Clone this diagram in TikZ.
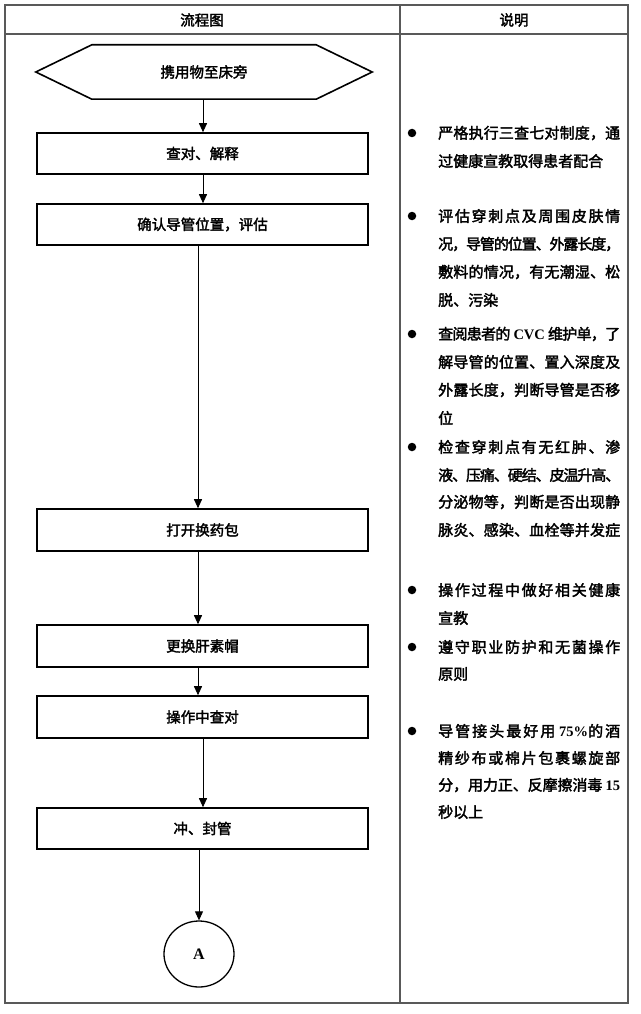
\documentclass[tikz,border=0pt]{standalone}
\usepackage{fontspec}
\usetikzlibrary{arrows.meta,shapes.geometric}
\setmainfont{Liberation Serif}
\newfontfamily\cjk{Noto Sans CJK SC}[FakeBold=2.2]
\newfontfamily\lat{Liberation Serif}
\XeTeXinterchartokenstate=1
\newcount\cjkc
\def\setcls#1#2{\cjkc=#1\relax\loop\XeTeXcharclass\cjkc=1\relax\advance\cjkc by 1\relax\ifnum\cjkc<#2\relax\repeat}
\setcls{"4E00}{"A000}
\setcls{"3000}{"3040}
\setcls{"FF00}{"FFF0}
\XeTeXinterchartoks 1 1 = {\hskip 0pt plus 8pt minus 3pt\relax}
\newcommand\jl[1]{\makebox[182pt][s]{#1}}
\newcommand\lt[1]{{\lat\bfseries\fontsize{14.5}{15}\selectfont #1}}
\begin{document}
\begin{tikzpicture}[x=1pt,y=-1pt,
  tbl/.style={draw=black!65, line width=1.3pt},
  hdr/.style={font=\cjk\fontsize{14.5}{16}\selectfont, inner sep=0pt},
  stepbox/.style={draw=black, line width=1.6pt, minimum width=331pt, minimum height=41pt,
     inner sep=0pt, font=\cjk\fontsize{14.5}{16}\selectfont},
  arr/.style={-{Triangle[length=9pt,width=8pt]}, line width=0.9pt},
  rtext/.style={anchor=west, inner sep=0pt, font=\cjk\fontsize{15}{18}\selectfont},
  dot/.style={circle, fill=black, inner sep=0pt, minimum size=8.5pt}]
\useasboundingbox (0,0) rectangle (640,1014);
\fill[white] (0,0) rectangle (640,1014);
% table
\draw[tbl] (5,5) rectangle (628,1003);
\draw[tbl] (5,34) -- (628,34);
\draw[tbl] (400,5) -- (400,1003);
\node[hdr] (h1) at (202,20) {流程图};
\node[hdr] (h2) at (514,20) {说明};
% flowchart
\node[hdr, minimum width=336pt, minimum height=54pt] (hex) at (204,72) {携用物至床旁};
\draw[line width=1.6pt, line join=miter] (hex.west) -- ([xshift=56pt]hex.north west) -- ([xshift=-56pt]hex.north east)
   -- (hex.east) -- ([xshift=-56pt]hex.south east) -- ([xshift=56pt]hex.south west) -- cycle;
\node[stepbox] (b1) at (202.5,153.5) {查对、解释};
\node[stepbox] (b2) at (202.5,224.5) {确认导管位置，评估};
\node[stepbox, minimum height=42pt] (b3) at (202.5,530) {打开换药包};
\node[stepbox, minimum height=42pt] (b4) at (202.5,646) {更换肝素帽};
\node[stepbox, minimum height=42pt] (b5) at (202.5,717) {操作中查对};
\node[stepbox] (b6) at (202.5,828.5) {冲、封管};
\node[draw, ellipse, line width=1.3pt, minimum width=70pt, minimum height=66pt, inner sep=0pt,
   font=\lat\bfseries\fontsize{16}{18}\selectfont] (A) at (199,954) {A};
\draw[arr] ([xshift=0.5pt]b1.north |- hex.south) -- ([xshift=0.5pt]b1.north);
\draw[arr] ([xshift=0.5pt]b1.south) -- ([xshift=0.5pt]b2.north);
\draw[arr] ([xshift=-4.5pt]b2.south) -- ([xshift=-4.5pt]b3.north);
\draw[arr] ([xshift=-4.5pt]b3.south) -- ([xshift=-4.5pt]b4.north);
\draw[arr] ([xshift=-4.5pt]b4.south) -- ([xshift=-4.5pt]b5.north);
\draw[arr] ([xshift=0.5pt]b5.south) -- ([xshift=0.5pt]b6.north);
\draw[arr] (b6.south -| A.north) -- (A.north);
% explanations
\node[dot] (d1) at (412,133) {};
\node[rtext] (t11) at (438,133) {\jl{严格执行三查七对制度，通}};
\node[rtext] (t12) at (438,161) {过健康宣教取得患者配合};
\node[dot] (d2) at (412,216) {};
\node[rtext] (t21) at (438,216) {\jl{评估穿刺点及周围皮肤情}};
\node[rtext] (t22) at (438,244) {\jl{况，导管的位置、外露长度，}};
\node[rtext] (t23) at (438,272) {\jl{敷料的情况，有无潮湿、松}};
\node[rtext] (t24) at (438,300) {脱、污染};
\node[dot] (d3) at (412,334) {};
\node[rtext] (t31) at (438,334) {\jl{查阅患者的 \lt{CVC} 维护单，了}};
\node[rtext] (t32) at (438,362) {\jl{解导管的位置、置入深度及}};
\node[rtext] (t33) at (438,390) {\jl{外露长度，判断导管是否移}};
\node[rtext] (t34) at (438,418) {位};
\node[dot] (d4) at (412,447) {};
\node[rtext] (t41) at (438,447) {\jl{检查穿刺点有无红肿、渗}};
\node[rtext] (t42) at (438,475) {\jl{液、压痛、硬结、皮温升高、}};
\node[rtext] (t43) at (438,502) {\jl{分泌物等，判断是否出现静}};
\node[rtext] (t44) at (438,530) {\jl{脉炎、感染、血栓等并发症}};
\node[dot] (d5) at (412,590) {};
\node[rtext] (t51) at (438,590) {\jl{操作过程中做好相关健康}};
\node[rtext] (t52) at (438,618) {宣教};
\node[dot] (d6) at (412,647) {};
\node[rtext] (t61) at (438,647) {\jl{遵守职业防护和无菌操作}};
\node[rtext] (t62) at (438,674) {原则};
\node[dot] (d7) at (412,731) {};
\node[rtext] (t71) at (438,731) {\jl{导管接头最好用 \lt{75\%}的酒}};
\node[rtext] (t72) at (438,758) {\jl{精纱布或棉片包裹螺旋部}};
\node[rtext] (t73) at (438,785) {\jl{分，用力正、反摩擦消毒 \lt{15}}};
\node[rtext] (t74) at (438,812) {秒以上};
\end{tikzpicture}
\end{document}
